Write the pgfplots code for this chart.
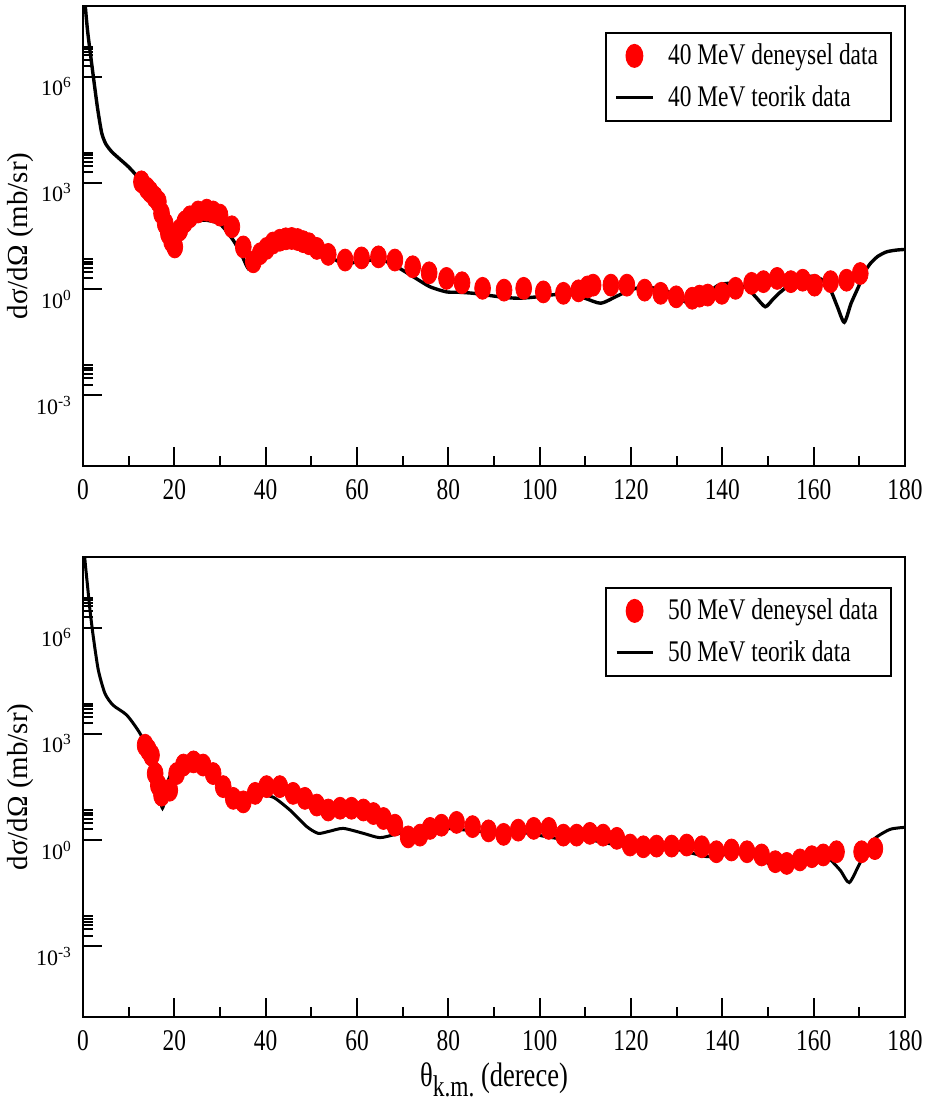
\documentclass[border=0pt]{standalone}
\usepackage{fontspec}
\setmainfont{Liberation Serif}[FakeStretch=0.78]
\newfontfamily\plainserif{Liberation Serif}
\usepackage{pgfplots}
\pgfplotsset{compat=1.18}

\pgfplotsset{
  panel/.style={
    width=411pt, height=230pt, scale only axis, anchor=south west,
    xmin=0, xmax=180, ymin=1e-5, ymax=1e8,
    xtick={0,20,...,180},
    xticklabels={0,20,40,60,80,100,120,140,160,180},
    minor xtick={10,30,...,170},
    ytick={1e-3,1,1e3,1e6},
    yticklabels={10\textsuperscript{-3},10\textsuperscript{0},10\textsuperscript{3},10\textsuperscript{6}},
    minor ytick={2e-3,3e-3,4e-3,5e-3,6e-3,7e-3,2,3,4,5,6,7,2e3,3e3,4e3,5e3,6e3,7e3,2e6,3e6,4e6,5e6,6e6,7e6},
    tick align=inside, xtick pos=lower, ytick pos=left,
    major tick length=9.5pt, minor tick length=5pt,
    axis line style={line width=1.3pt},
    every tick/.style={black, line width=1pt},
    xticklabel style={font=\fontsize{15}{15}\selectfont, yshift=-3pt},
    yticklabel style={font=\plainserif\fontsize{11}{11}\selectfont, xshift=-2pt, yshift=-5pt},
    ylabel={dσ/dΩ (mb/sr)},
    ylabel style={font=\plainserif\fontsize{14.5}{14.5}\selectfont, at={(axis description cs:-0.0766,0.5)},
      anchor=center},
    legend image code/.code={\draw[mark repeat=2,mark phase=2,##1] plot coordinates {(0pt,0pt) (9pt,0pt) (18pt,0pt)};},
    legend style={at={(rel axis cs:1,1)}, anchor=north east, xshift=-6.5pt, yshift=-13pt,
      draw=black, line width=1pt, inner xsep=4.5pt, inner ysep=3.5pt, row sep=5pt, column sep=5pt,
      font=\fontsize{15}{15}\selectfont, cells={anchor=west}},
    legend cell align=left,
  },
  datapts/.style={only marks, mark=*, mark size=5.5pt, mark options={draw=red, fill=red, xscale=0.72}},
}

\begin{document}
\begin{tikzpicture}
\path[use as bounding box] (-41.5pt,-48pt) rectangle (423pt,508.5pt);

% 40 MeV
\begin{axis}[ymode=log, panel, at={(0pt,275.5pt)}]
\addplot[datapts] coordinates {
(12.8,1072) (14.0,708) (14.7,562) (15.7,398) (16.5,295) (17.2,138) (18.0,70.8)
(18.7,37.2) (19.4,22.4) (20.1,15.5) (21.2,46.8) (22.3,79.4) (23.4,110) (25.2,151)
(27.1,170) (28.5,151) (30.0,123) (32.6,57.5) (35.1,15.5) (37.3,5.89) (38.8,10.0)
(40.2,14.1) (41.6,20.0) (43.1,24.0) (44.4,26.3) (45.7,26.9) (47.0,25.1) (48.2,21.9)
(49.5,19.1) (51.2,14.1) (53.7,9.55) (57.4,6.61) (61.0,7.59) (64.7,8.13) (68.3,6.61)
(72.2,4.27) (75.8,2.88) (79.6,2.00) (83.0,1.51) (87.5,1.05) (92.2,0.933) (96.5,1.05)
(100.8,0.832) (105.2,0.759) (108.5,0.891) (110.5,1.15) (111.7,1.29) (115.6,1.29)
(119.1,1.29) (123.0,0.933) (126.5,0.759) (129.9,0.603) (133.4,0.550) (135.0,0.631)
(136.8,0.676) (139.9,0.759) (142.9,1.05) (146.4,1.45) (149.0,1.62) (152.0,2.00)
(155.0,1.62) (157.6,1.78) (160.2,1.29) (163.7,1.62) (167.2,1.78) (170.2,2.75)
};
\addlegendentry{40 MeV deneysel data}
\addplot[black, line width=1.7pt, no markers, smooth, tension=0.4] coordinates {
(0.3,2e8) (1.0,2e7) (2.27,1e6) (3.2,1.26e5) (4.1,2.57e4) (5.0,1.26e4) (6.3,7586)
(8.0,4786) (10.0,2818) (12.0,1479) (13.2,1000) (15.4,407) (17.0,141) (18.3,57.5)
(19.5,26.3) (20.4,15.7) (21.5,31.6) (22.7,57.5) (24.5,79.4) (26.7,89.1) (30.0,69.2)
(32.9,24.0) (34.8,8.91) (36.2,3.80) (37.3,6.31) (38.8,12.6) (41.7,25.1) (44.6,30.2)
(47.5,24.0) (49.0,20.0) (51.8,12.6) (54.5,7.59) (57.0,5.37) (60.6,5.89) (65.0,6.92)
(68.7,4.27) (72.3,2.24) (76.0,1.16) (79.6,0.832) (82.2,0.813) (85.5,0.759)
(91.3,0.603) (95.2,0.550) (99.5,0.603) (103.0,0.692) (106.4,0.724) (109.9,0.550)
(113.4,0.398) (116.9,0.631) (120.0,0.955) (123.0,1.15) (127.3,0.933) (130.0,0.631)
(132.5,0.398) (134.5,0.501) (136.8,0.759) (139.0,1.26) (141.2,1.45) (143.5,1.32)
(145.5,1.05) (147.5,0.562) (149.4,0.316) (151.0,0.501) (152.4,0.759) (155.0,1.41)
(157.6,2.24) (160.2,2.24) (162.0,1.78) (163.7,0.933) (165.2,0.316) (166.7,0.115)
(168.2,0.398) (169.8,1.15) (171.0,2.82) (172.4,5.25) (174.0,8.32) (175.9,11.2)
(178.0,12.6) (180.0,13.2)
};
\addlegendentry{40 MeV teorik data}
\end{axis}

% 50 MeV
\begin{axis}[ymode=log, panel, at={(0pt,0pt)},
  legend style={yshift=-2pt},
  xlabel={\fontsize{17}{17}\selectfont θ\raisebox{-5pt}{\fontsize{15}{15}\selectfont k.m.} (derece)},
  xlabel style={at={(axis description cs:0.5,0)}, anchor=center, yshift=-31.5pt}]
\addplot[datapts] coordinates {
(13.6,479) (14.3,355) (15.0,251) (15.8,75.9) (16.5,35.5) (17.2,18.6) (19.0,25.7)
(20.5,75.9) (22.0,132) (24.2,162) (26.3,132) (28.5,75.9) (30.7,32.4) (32.9,15.1)
(35.1,12.0) (37.7,20.9) (40.2,32.4) (43.1,32.4) (46.0,20.9) (48.6,15.1) (51.2,9.77)
(53.7,7.08) (56.3,7.94) (58.8,7.94) (61.4,7.08) (63.6,5.62) (65.8,4.07) (68.3,2.63)
(71.2,1.23) (73.8,1.38) (76.0,2.14) (78.5,2.63) (81.8,3.16) (85.3,2.40) (88.8,1.82)
(92.1,1.45) (95.3,1.91) (98.7,2.14) (102.0,2.14) (105.2,1.38) (108.1,1.38) (111.0,1.55)
(113.9,1.38) (116.9,1.12) (119.8,0.724) (122.7,0.646) (125.6,0.676) (128.9,0.676)
(132.2,0.724) (135.5,0.646) (138.7,0.468) (142.0,0.525) (145.4,0.468) (148.6,0.380)
(151.6,0.245) (154.1,0.219) (157.0,0.275) (159.6,0.339) (162.1,0.380) (165.0,0.468)
(170.5,0.468) (173.4,0.575)
};
\addlegendentry{50 MeV deneysel data}
\addplot[black, line width=1.5pt, no markers, smooth, tension=0.4] coordinates {
(0.3,2e8) (0.44,7.94e7) (1.0,1.5e7) (1.53,3.16e6) (2.26,5.5e5) (3.36,6.31e4)
(4.82,1.38e4) (6.6,6457) (9.6,3388) (12.5,1023) (14.7,229) (16.1,50.1) (17.4,7.94)
(18.7,50.1) (20.5,132) (24.2,162) (27.8,95.5) (31.5,32.4) (34.4,16.2) (38.8,18.6)
(41.7,16.2) (45.3,7.08) (49.0,2.40) (51.5,1.55) (54.0,1.78) (57.0,2.14) (61.4,1.55)
(65.0,1.17) (68.7,1.48) (73.1,1.91) (79.6,2.14) (86.9,1.74) (91.3,1.62) (96.4,1.62)
(103.7,1.12) (111.0,1.0) (118.3,0.676) (125.6,0.617) (129.3,0.575) (136.6,0.339)
(140.2,0.380) (143.9,0.437) (147.5,0.324) (152.7,0.158) (156.3,0.339) (160.0,0.437)
(162.9,0.339) (165.8,0.141) (167.8,0.0631) (170.1,0.219) (173.0,1.0) (176.7,2.0)
(180.0,2.29)
};
\addlegendentry{50 MeV teorik data}
\end{axis}
\end{tikzpicture}
\end{document}
